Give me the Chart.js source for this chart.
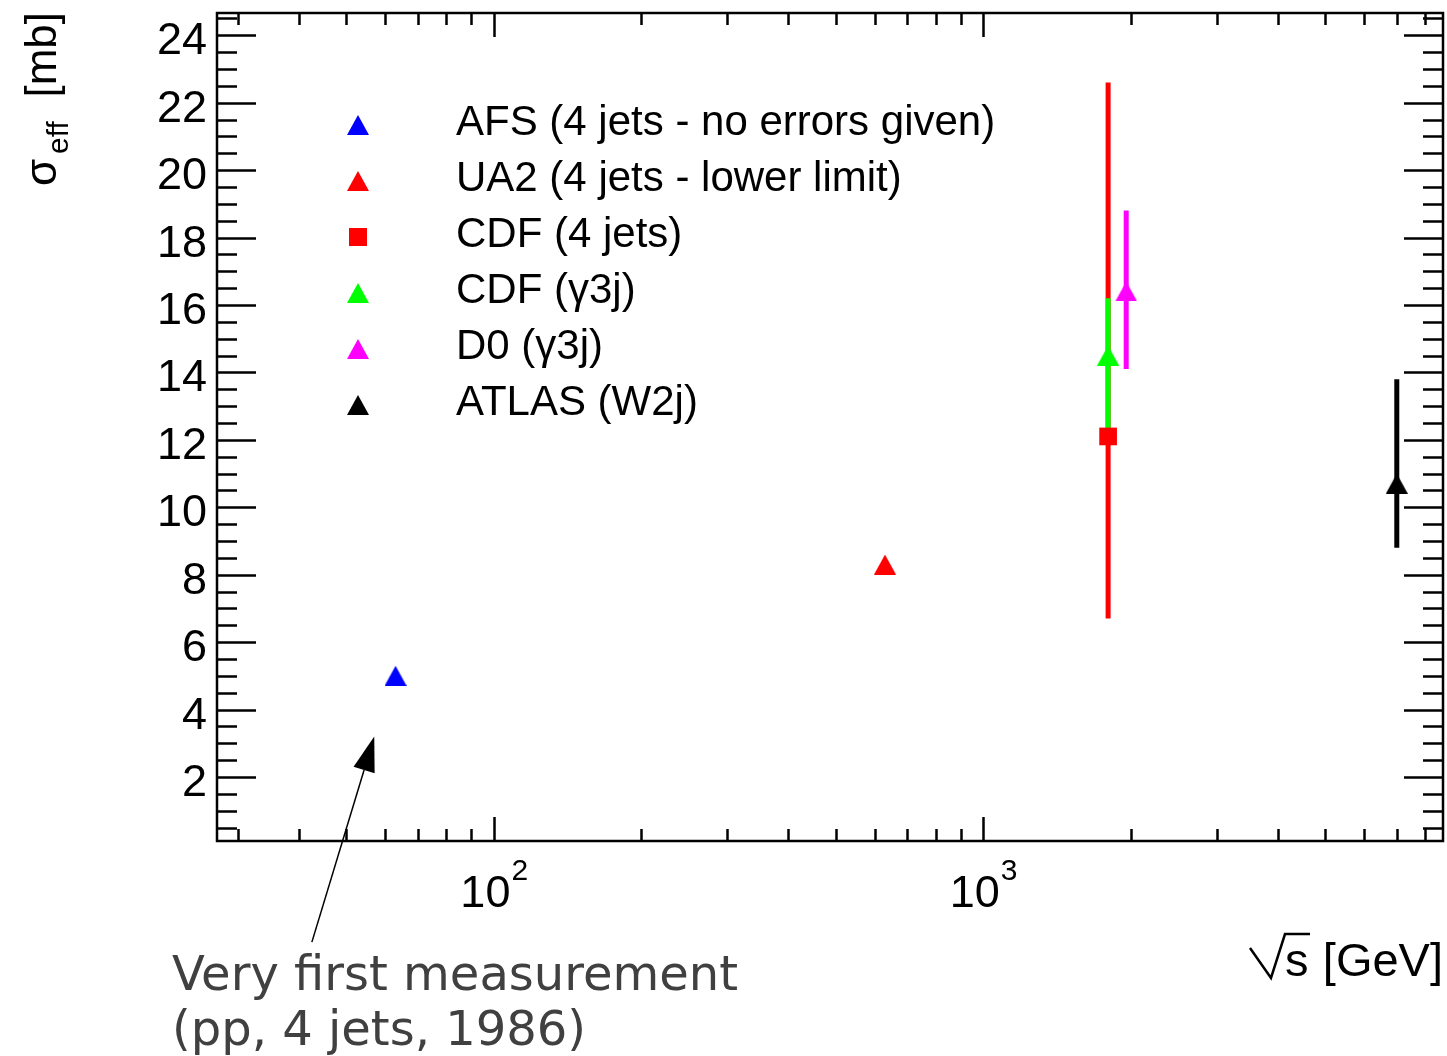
<!DOCTYPE html>
<html lang="en">
<head>
  <meta charset="utf-8">
  <title>sigma_eff vs sqrt(s)</title>
  <script src="https://cdn.jsdelivr.net/npm/chart.js@4.4.1/dist/chart.umd.min.js"></script>
  <style>
    html, body { margin: 0; padding: 0; background: #fff; }
    canvas { display: block; }
  </style>
</head>
<body>
  <canvas id="chart-0" width="1447" height="1056"></canvas>

  <script>
    // values
    const labels = ['AFS (4 jets - no errors given)', 'UA2 (4 jets - lower limit)', 'CDF (4 jets)', 'CDF (γ3j)', 'D0 (γ3j)', 'ATLAS (W2j)'];
    const sqrtS = [63, 630, 1800, 1800, 1960, 7000];
    const sigmaEff = [5.0, 8.3, 12.1, 14.5, 16.4, 10.7];
    const sigmaHi = [null, null, 22.6, 16.2, 18.8, 13.8];
    const sigmaLo = [null, null, 6.7, 12.3, 14.1, 8.8];
    const colors = ['#0000ff', '#ff0000', '#ff0000', '#00ff00', '#ff00ff', '#000000'];
    const markers = ['triangle', 'triangle', 'square', 'triangle', 'triangle', 'triangle'];
    const yTicks = [2, 4, 6, 8, 10, 12, 14, 16, 18, 20, 22, 24];
    const xDecades = [100, 1000];
    const noteLines = ['Very first measurement', '(pp, 4 jets, 1986)'];

    const FONT = '"Liberation Sans", Arial, Helvetica, sans-serif';

    // ROOT style triangle: centred at mid height
    function makeTriangle(color) {
      let c = document.createElement('canvas');
      c.width = 22;
      c.height = 20;
      let g = c.getContext('2d');
      g.fillStyle = color;
      g.beginPath();
      g.moveTo(0, 20);
      g.lineTo(22, 20);
      g.lineTo(11, 0);
      g.closePath();
      g.fill();
      return c;
    }

    let markerImg = markers.map((m, i) => m === 'triangle' ? makeTriangle(colors[i]) : 'rect');

    let datasets = labels.map((label, i) => ({
      label: label,
      data: [{x: sqrtS[i], y: sigmaEff[i]}],
      pointStyle: markerImg[i],
      pointRadius: markers[i] === 'square' ? 12.5 : 11,
      backgroundColor: colors[i],
      borderWidth: 0,
      showLine: false
    }));

    function drawMarker(ctx, i, x, y) {
      if (markers[i] === 'square') {
        ctx.fillStyle = colors[i];
        ctx.fillRect(x - 9, y - 9, 18, 18);
      } else {
        let img = markerImg[i];
        ctx.drawImage(img, x - img.width / 2, y - img.height / 2);
      }
    }

    let rootStyle = {
      id: 'rootStyle',
      beforeDatasetsDraw(chart) {
        let ctx = chart.ctx;
        let xs = chart.scales.x, ys = chart.scales.y;
        ctx.save();
        ctx.lineWidth = 5;
        ctx.lineCap = 'butt';
        for (let i = 0; i < labels.length; i++) {
          if (sigmaHi[i] === null) continue;
          let px = xs.getPixelForValue(sqrtS[i]);
          ctx.strokeStyle = colors[i];
          ctx.beginPath();
          ctx.moveTo(px, ys.getPixelForValue(sigmaHi[i]));
          ctx.lineTo(px, ys.getPixelForValue(sigmaLo[i]));
          ctx.stroke();
        }
        ctx.restore();
      },
      afterDraw(chart) {
        let ctx = chart.ctx;
        let a = chart.chartArea;
        let xs = chart.scales.x, ys = chart.scales.y;
        ctx.save();

        // frame
        ctx.strokeStyle = '#000';
        ctx.lineWidth = 2.5;
        ctx.strokeRect(a.left, a.top, a.right - a.left, a.bottom - a.top);

        // y ticks, both sides
        ctx.lineWidth = 2.5;
        ctx.beginPath();
        for (let v = 0.5; v < ys.max; v += 0.5) {
          if (v < ys.min) continue;
          let py = Math.round(ys.getPixelForValue(v)) + 0.5;
          let len = (v % 2 === 0) ? 39 : 20;
          ctx.moveTo(a.left, py);
          ctx.lineTo(a.left + len, py);
          ctx.moveTo(a.right, py);
          ctx.lineTo(a.right - len, py);
        }
        // x ticks, bottom and top
        for (let d = 10; d < xs.max; d *= 10) {
          for (let k = 1; k <= 9; k++) {
            let v = d * k;
            if (v < xs.min || v > xs.max) continue;
            let px = Math.round(xs.getPixelForValue(v)) + 0.5;
            let len = k === 1 ? 24 : 12;
            ctx.moveTo(px, a.bottom);
            ctx.lineTo(px, a.bottom - len);
            ctx.moveTo(px, a.top);
            ctx.lineTo(px, a.top + len);
          }
        }
        ctx.stroke();

        // y tick labels
        ctx.fillStyle = '#000';
        ctx.font = '45px ' + FONT;
        ctx.textAlign = 'right';
        ctx.textBaseline = 'alphabetic';
        yTicks.forEach(v => {
          ctx.fillText(String(v), a.left - 10, ys.getPixelForValue(v) + 19);
        });

        // x tick labels 10^n
        ctx.textAlign = 'left';
        xDecades.forEach(v => {
          let exp = String(Math.round(Math.log10(v)));
          ctx.font = '45px ' + FONT;
          let w1 = ctx.measureText('10').width;
          ctx.font = '30px ' + FONT;
          let w2 = ctx.measureText(exp).width;
          let x0 = xs.getPixelForValue(v) - (w1 + w2) / 2;
          ctx.font = '45px ' + FONT;
          ctx.fillText('10', x0, 907);
          ctx.font = '30px ' + FONT;
          ctx.fillText(exp, x0 + w1 + 1, 880);
        });

        // x axis title: sqrt(s) [GeV]
        ctx.font = '47px ' + FONT;
        ctx.textAlign = 'right';
        ctx.fillText('[GeV]', a.right, 976);
        ctx.textAlign = 'left';
        ctx.fillText('s', 1285, 976);
        ctx.lineWidth = 2.5;
        ctx.beginPath();
        ctx.moveTo(1250, 948);
        ctx.lineTo(1271, 978);
        ctx.lineTo(1285, 934);
        ctx.lineTo(1310, 934);
        ctx.stroke();

        // y axis title, rotated
        ctx.save();
        ctx.rotate(-Math.PI / 2);
        ctx.textAlign = 'left';
        ctx.font = '44px ' + FONT;
        ctx.fillText('σ', -186, 56);
        ctx.font = '30px ' + FONT;
        ctx.fillText('eff', -154, 68);
        ctx.font = '44px ' + FONT;
        ctx.textAlign = 'right';
        ctx.fillText('[mb]', -12, 56);
        ctx.restore();

        // legend
        ctx.font = '42px ' + FONT;
        ctx.textAlign = 'left';
        labels.forEach((label, i) => {
          let base = 135 + i * 56;
          drawMarker(ctx, i, 358, base - 10);
          ctx.fillStyle = '#000';
          ctx.fillText(label, 456, base);
        });

        // annotation arrow
        let tipX = xs.getPixelForValue(57), tipY = ys.getPixelForValue(3.2);
        let tailX = xs.getPixelForValue(42.5), tailY = ys.getPixelForValue(-2.9);
        let ang = Math.atan2(tipY - tailY, tipX - tailX);
        let hl = 35, hw = 11;
        let bx = tipX - hl * Math.cos(ang), by = tipY - hl * Math.sin(ang);
        ctx.strokeStyle = '#000';
        ctx.lineWidth = 1.5;
        ctx.beginPath();
        ctx.moveTo(tailX, tailY);
        ctx.lineTo(bx, by);
        ctx.stroke();
        ctx.fillStyle = '#000';
        ctx.beginPath();
        ctx.moveTo(tipX, tipY);
        ctx.lineTo(bx + hw * Math.sin(ang), by - hw * Math.cos(ang));
        ctx.lineTo(bx - hw * Math.sin(ang), by + hw * Math.cos(ang));
        ctx.closePath();
        ctx.fill();

        // annotation text
        ctx.font = '48px "DejaVu Sans", sans-serif';
        ctx.fillStyle = '#404040';
        ctx.textAlign = 'left';
        ctx.fillText(noteLines[0], 172, 990);
        ctx.fillText(noteLines[1], 172, 1045);

        ctx.restore();
      }
    };

    let chart = new Chart('chart-0', {
      type: 'scatter',
      data: { datasets: datasets },
      options: {
        responsive: false,
        animation: false,
        events: [],
        layout: {
          autoPadding: false,
          padding: { left: 217, top: 13, right: 4, bottom: 215 }
        },
        scales: {
          x: { type: 'logarithmic', min: 27.2, max: 8700, display: false },
          y: { type: 'linear', min: 0.1, max: 24.66, display: false }
        },
        plugins: {
          legend: { display: false },
          tooltip: { enabled: false }
        }
      },
      plugins: [rootStyle]
    });
  </script>
</body>
</html>
